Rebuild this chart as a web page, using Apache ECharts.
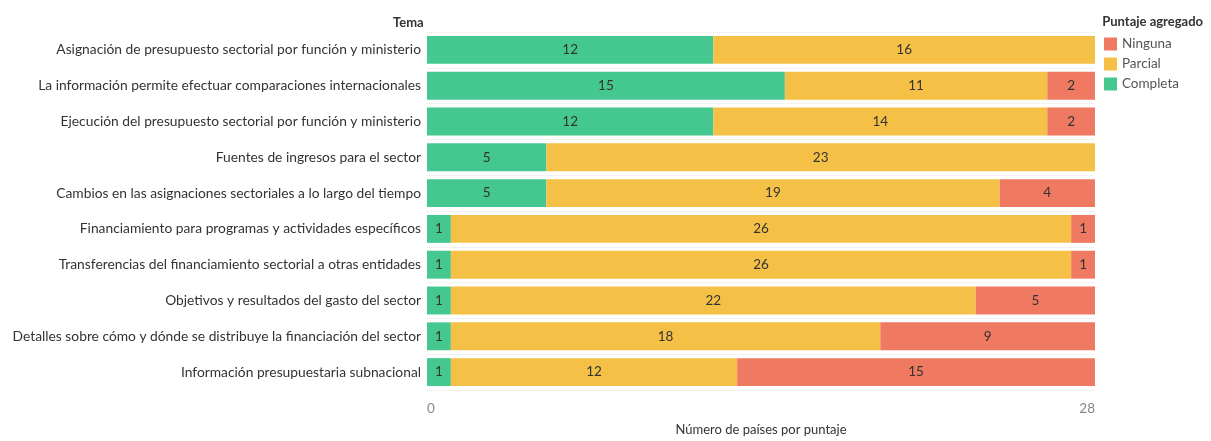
<!DOCTYPE html>
<html><head><meta charset="utf-8">
<script src="https://cdn.jsdelivr.net/npm/echarts@6/dist/echarts.min.js"></script>
<style>html,body{margin:0;padding:0;background:#fff}#c{width:1211px;height:441px}</style>
</head><body><div id="c"></div>
<script>
const categories = [
  "Asignación de presupuesto sectorial por función y ministerio",
  "La información permite efectuar comparaciones internacionales",
  "Ejecución del presupuesto sectorial por función y ministerio",
  "Fuentes de ingresos para el sector",
  "Cambios en las asignaciones sectoriales a lo largo del tiempo",
  "Financiamiento para programas y actividades específicos",
  "Transferencias del financiamiento sectorial a otras entidades",
  "Objetivos y resultados del gasto del sector",
  "Detalles sobre cómo y dónde se distribuye la financiación del sector",
  "Información presupuestaria subnacional"
];
const completa = [12, 15, 12, 5, 5, 1, 1, 1, 1, 1];
const parcial  = [16, 11, 14, 23, 19, 26, 26, 22, 18, 12];
const ninguna  = [0, 2, 2, 0, 4, 1, 1, 5, 9, 15];
const xTicks = [0, 28];

const FONT = 'Lato';
const chart = echarts.init(document.getElementById('c'));
function mk(name, data, color) {
  return {
    name, type: 'bar', stack: 'total', data: data.map(v => v === 0 ? null : v),
    barCategoryGap: '22%',
    itemStyle: { color },
    label: { show: true, position: 'inside', color: '#333', fontFamily: FONT, fontSize: 13.5,
      formatter: p => p.value }
  };
}
chart.setOption({
  animation: false,
  textStyle: { fontFamily: FONT },
  grid: { left: 427, right: 116, top: 32, bottom: 46, containLabel: false },
  legend: {
    orient: 'vertical', right: 27, top: 32, itemWidth: 13, itemHeight: 13, itemGap: 6,
    icon: 'rect', data: ['Ninguna', 'Parcial', 'Completa'],
    textStyle: { color: '#555', fontSize: 13.5, fontFamily: FONT }
  },
  title: [
    { text: 'Puntaje agregado', right: 3, top: 10, textStyle: { fontSize: 13, fontWeight: 'bold', color: '#333', fontFamily: FONT } },
    { text: 'Tema', left: 388, top: 11, textStyle: { fontSize: 13, fontWeight: 'bold', color: '#333', fontFamily: FONT } }
  ],
  xAxis: {
    type: 'value', min: xTicks[0], max: xTicks[1], interval: 28,
    name: 'Número de países por puntaje', nameLocation: 'middle', nameGap: 33,
    nameTextStyle: { color: '#333', fontSize: 13, fontFamily: FONT },
    axisLine: { show: false }, axisTick: { show: false }, splitLine: { show: false },
    axisLabel: { color: '#888', fontSize: 13.5, fontFamily: FONT, margin: 12,
      alignMinLabel: 'left', alignMaxLabel: 'right',
      formatter: v => xTicks.includes(v) ? String(v) : '' }
  },
  yAxis: {
    type: 'category', data: categories, inverse: true,
    axisLine: { show: false }, axisTick: { show: false },
    splitLine: { show: true, lineStyle: { color: '#e4e4e4', type: 'dotted', width: 1 } },
    axisLabel: { color: '#333', fontSize: 13.8, fontFamily: FONT, margin: 6 }
  },
  series: [
    mk('Completa', completa, '#45C790'),
    mk('Parcial', parcial, '#F4C146'),
    mk('Ninguna', ninguna, '#EF7961')
  ]
});
</script></body></html>
